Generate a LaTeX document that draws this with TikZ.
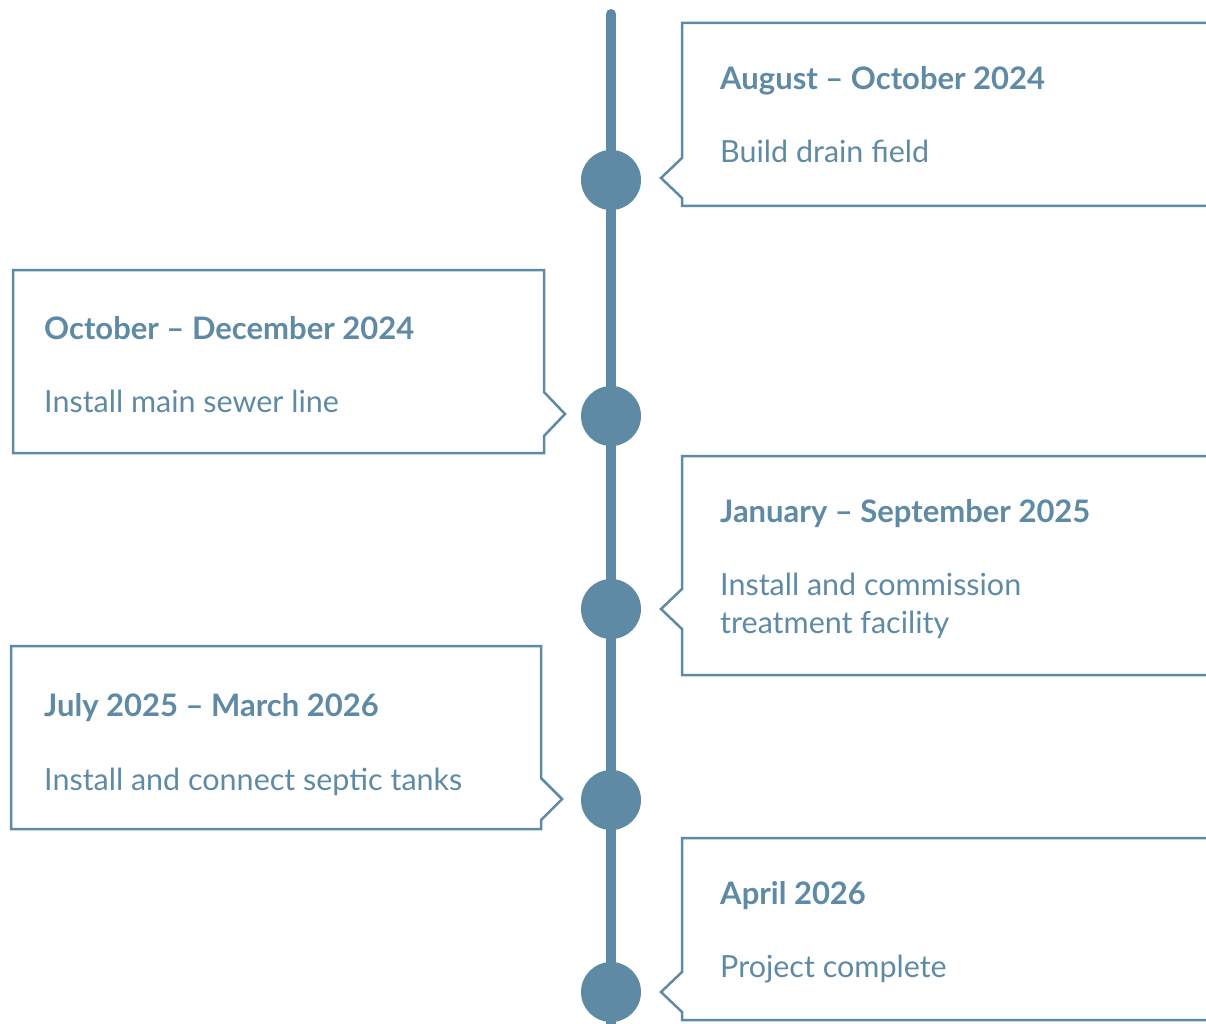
\documentclass[tikz,border=0pt]{standalone}
\usepackage{fontspec}
\setmainfont{Lato}
\definecolor{tl}{RGB}{94,138,165}
\begin{document}
\begin{tikzpicture}[x=1pt,y=-1pt,
  card/.style={draw=tl, line width=2.5pt, line join=miter},
  dot/.style={circle, fill=tl, minimum size=60pt, inner sep=0pt},
  ttl/.style={anchor=base west, inner sep=0pt, text=tl, font=\fontsize{31}{37}\selectfont\bfseries},
  bdy/.style={anchor=base west, inner sep=0pt, text=tl, align=left, font=\fontsize{30.5}{38}\selectfont}]
\useasboundingbox (0,0) rectangle (1206,1024);
% timeline
\coordinate (top) at (611,14);
\coordinate (bot) at (611,1030);
\draw[tl, line width=10pt, line cap=round] (top) -- (bot);
\node[dot] (d1) at (611,180) {};
\node[dot] (d2) at (611,416) {};
\node[dot] (d3) at (611,609) {};
\node[dot] (d4) at (611,800) {};
\node[dot] (d5) at (611,992) {};
% right cards
\draw[card] (1210,23) -- (682,23) -- (682,158) -- (661,178) -- (682,198) -- (682,206) -- (1210,206);
\draw[card] (1210,456) -- (682,456) -- (682,589) -- (661,609) -- (682,629) -- (682,675) -- (1210,675);
\draw[card] (1210,838) -- (682,838) -- (682,972) -- (661,992) -- (682,1012) -- (682,1020) -- (1210,1020);
% left cards
\draw[card] (13,270) -- (544,270) -- (544,392) -- (565,414) -- (544,436) -- (544,453) -- (13,453) -- cycle;
\draw[card] (11,646) -- (541,646) -- (541,778) -- (562,799) -- (541,820) -- (541,829) -- (11,829) -- cycle;
% texts
\node[ttl] (t1) at (720,90) {August – October 2024};
\node[bdy] (b1) at (720,163) {Build drain field};
\node[ttl] (t2) at (44,339) {October – December 2024};
\node[bdy] (b2) at (44,412) {Install main sewer line};
\node[ttl] (t3) at (720,522) {January – September 2025};
\node[bdy] (b3) at (720,633) {Install and commission\\treatment facility};
\node[ttl] (t4) at (44,716) {July 2025 – March 2026};
\node[bdy] (b4) at (44,790) {Install and connect septic tanks};
\node[ttl] (t5) at (720,904) {April 2026};
\node[bdy] (b5) at (720,977) {Project complete};
\end{tikzpicture}
\end{document}
